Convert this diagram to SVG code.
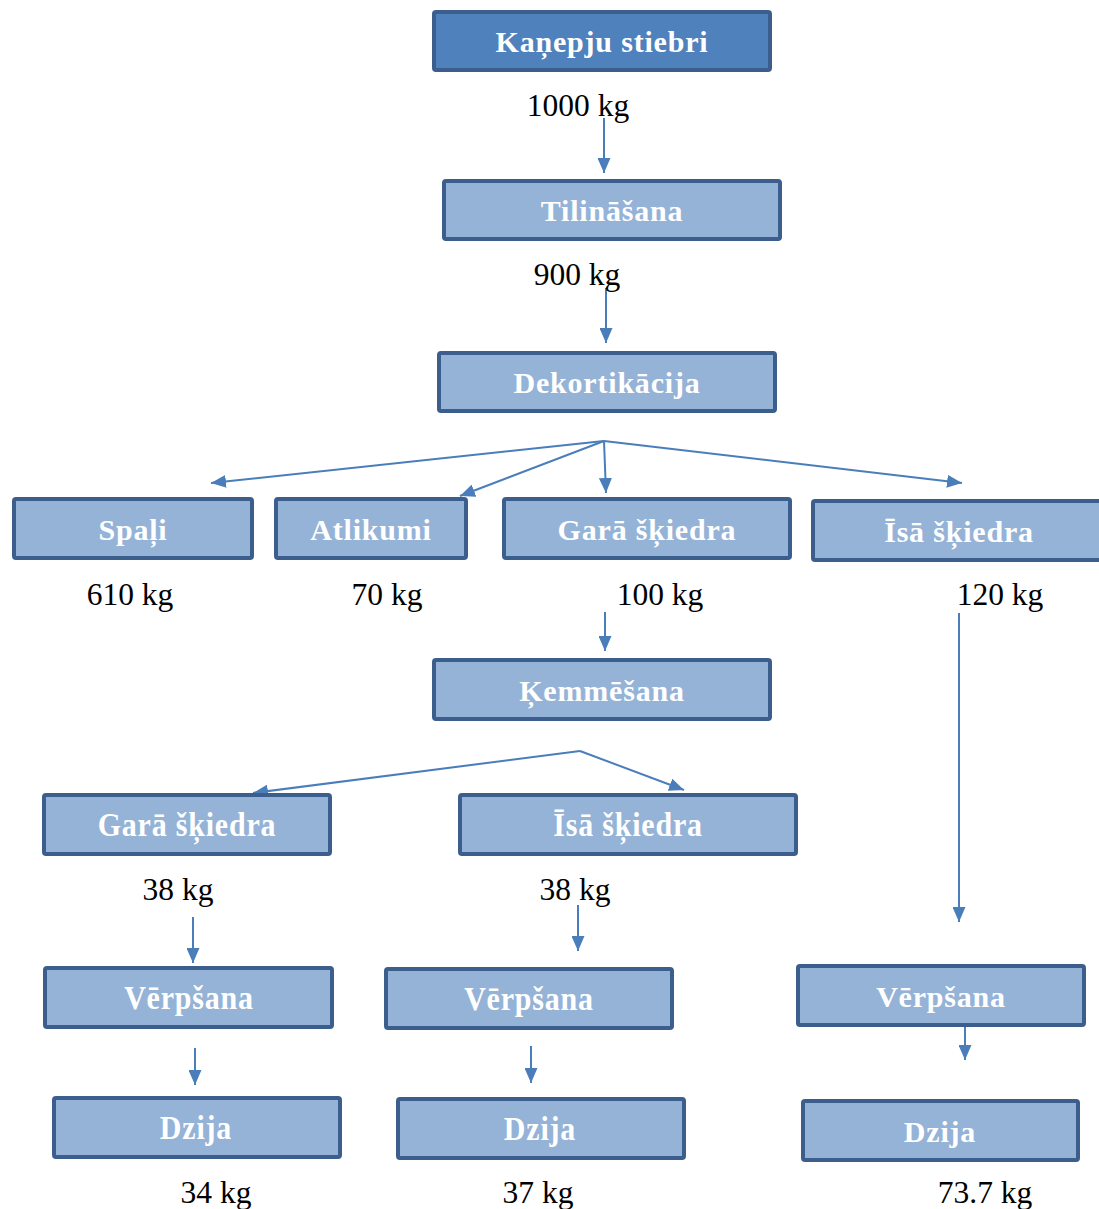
<svg xmlns="http://www.w3.org/2000/svg" width="1099" height="1209" viewBox="0 0 1099 1209">
<style>
.box{fill:#95B3D7;stroke:#3B5E8C;stroke-width:4}
.top{fill:#4F81BD}
.lbl{font-family:"Liberation Serif","Times New Roman",serif;font-weight:bold;font-size:30px;fill:#FFFFFF;text-anchor:middle;letter-spacing:0.8px}
.num{font-family:"Liberation Serif","Times New Roman",serif;font-size:31.5px;fill:#000000;text-anchor:middle}
.con{stroke:#4A7EBB;stroke-width:2;fill:none;marker-end:url(#ah)}
</style>
<defs>
<marker id="ah" markerUnits="userSpaceOnUse" markerWidth="15" markerHeight="13" refX="15" refY="6.5" orient="auto">
<path d="M0,0 L15,6.5 L0,13 z" fill="#4A7EBB"/>
</marker>
</defs>
<rect width="1099" height="1209" fill="#FFFFFF"/>
<g id="connectors">
<line class="con" x1="604" y1="118" x2="604" y2="173"/>
<line class="con" x1="606" y1="288" x2="606" y2="343"/>
<line class="con" x1="604" y1="441" x2="211" y2="483"/>
<line class="con" x1="604" y1="441" x2="460" y2="496"/>
<line class="con" x1="604" y1="441" x2="606" y2="493"/>
<line class="con" x1="604" y1="441" x2="962" y2="483"/>
<line class="con" x1="605" y1="612" x2="605" y2="651"/>
<line class="con" x1="580" y1="751" x2="253" y2="793"/>
<line class="con" x1="580" y1="751" x2="684" y2="790"/>
<line class="con" x1="193" y1="917" x2="193" y2="963"/>
<line class="con" x1="578" y1="905" x2="578" y2="951"/>
<line class="con" x1="959" y1="613" x2="959" y2="922"/>
<line class="con" x1="195" y1="1048" x2="195" y2="1085"/>
<line class="con" x1="531" y1="1046" x2="531" y2="1083"/>
<line class="con" x1="965" y1="1023" x2="965" y2="1060"/>
</g>
<g id="kanepju">
<rect class="box top" x="434" y="12" width="336" height="58" rx="2"/>
<text class="lbl" x="602" y="52">Kaņepju stiebri</text>
</g>
<text class="num" x="578" y="116">1000 kg</text>
<g id="tilinasana">
<rect class="box" x="444" y="181" width="336" height="58" rx="2"/>
<text class="lbl" x="612" y="221">Tilināšana</text>
</g>
<text class="num" x="577" y="285">900 kg</text>
<g id="dekortikacija">
<rect class="box" x="439" y="353" width="336" height="58" rx="2"/>
<text class="lbl" x="607" y="393">Dekortikācija</text>
</g>
<g id="spali">
<rect class="box" x="14" y="499" width="238" height="59" rx="2"/>
<text class="lbl" x="133" y="540">Spaļi</text>
</g>
<g id="atlikumi">
<rect class="box" x="276" y="499" width="190" height="59" rx="2"/>
<text class="lbl" x="371" y="540">Atlikumi</text>
</g>
<g id="gara1">
<rect class="box" x="504" y="499" width="286" height="59" rx="2"/>
<text class="lbl" x="647" y="540">Garā šķiedra</text>
</g>
<g id="isa1">
<rect class="box" x="813" y="501" width="288" height="59" rx="2"/>
<text class="lbl" x="959" y="542">Īsā šķiedra</text>
</g>
<text class="num" x="130" y="605">610 kg</text>
<text class="num" x="387" y="605">70 kg</text>
<text class="num" x="660" y="605">100 kg</text>
<text class="num" x="1000" y="605">120 kg</text>
<g id="kemmesana">
<rect class="box" x="434" y="660" width="336" height="59" rx="2"/>
<text class="lbl" x="602" y="701">Ķemmēšana</text>
</g>
<g id="gara2">
<rect class="box" x="44" y="795" width="286" height="59" rx="2"/>
<text class="lbl" transform="translate(187,836) scale(1,1.12)" x="0" y="0">Garā šķiedra</text>
</g>
<g id="isa2">
<rect class="box" x="460" y="795" width="336" height="59" rx="2"/>
<text class="lbl" transform="translate(628,836) scale(1,1.12)" x="0" y="0">Īsā šķiedra</text>
</g>
<text class="num" x="178" y="900">38 kg</text>
<text class="num" x="575" y="900">38 kg</text>
<g id="verpsana1">
<rect class="box" x="45" y="968" width="287" height="59" rx="2"/>
<text class="lbl" transform="translate(189,1009) scale(1,1.12)" x="0" y="0">Vērpšana</text>
</g>
<g id="verpsana2">
<rect class="box" x="386" y="969" width="286" height="59" rx="2"/>
<text class="lbl" transform="translate(529,1010) scale(1,1.12)" x="0" y="0">Vērpšana</text>
</g>
<g id="verpsana3">
<rect class="box" x="798" y="966" width="286" height="59" rx="2"/>
<text class="lbl" x="941" y="1007">Vērpšana</text>
</g>
<g id="dzija1">
<rect class="box" x="54" y="1098" width="286" height="59" rx="2"/>
<text class="lbl" transform="translate(196,1139) scale(1,1.12)" x="0" y="0">Dzija</text>
</g>
<g id="dzija2">
<rect class="box" x="398" y="1099" width="286" height="59" rx="2"/>
<text class="lbl" transform="translate(540,1140) scale(1,1.12)" x="0" y="0">Dzija</text>
</g>
<g id="dzija3">
<rect class="box" x="803" y="1101" width="275" height="59" rx="2"/>
<text class="lbl" x="940" y="1142">Dzija</text>
</g>
<text class="num" x="216" y="1203">34 kg</text>
<text class="num" x="538" y="1203">37 kg</text>
<text class="num" x="985" y="1203">73.7 kg</text>
</svg>
